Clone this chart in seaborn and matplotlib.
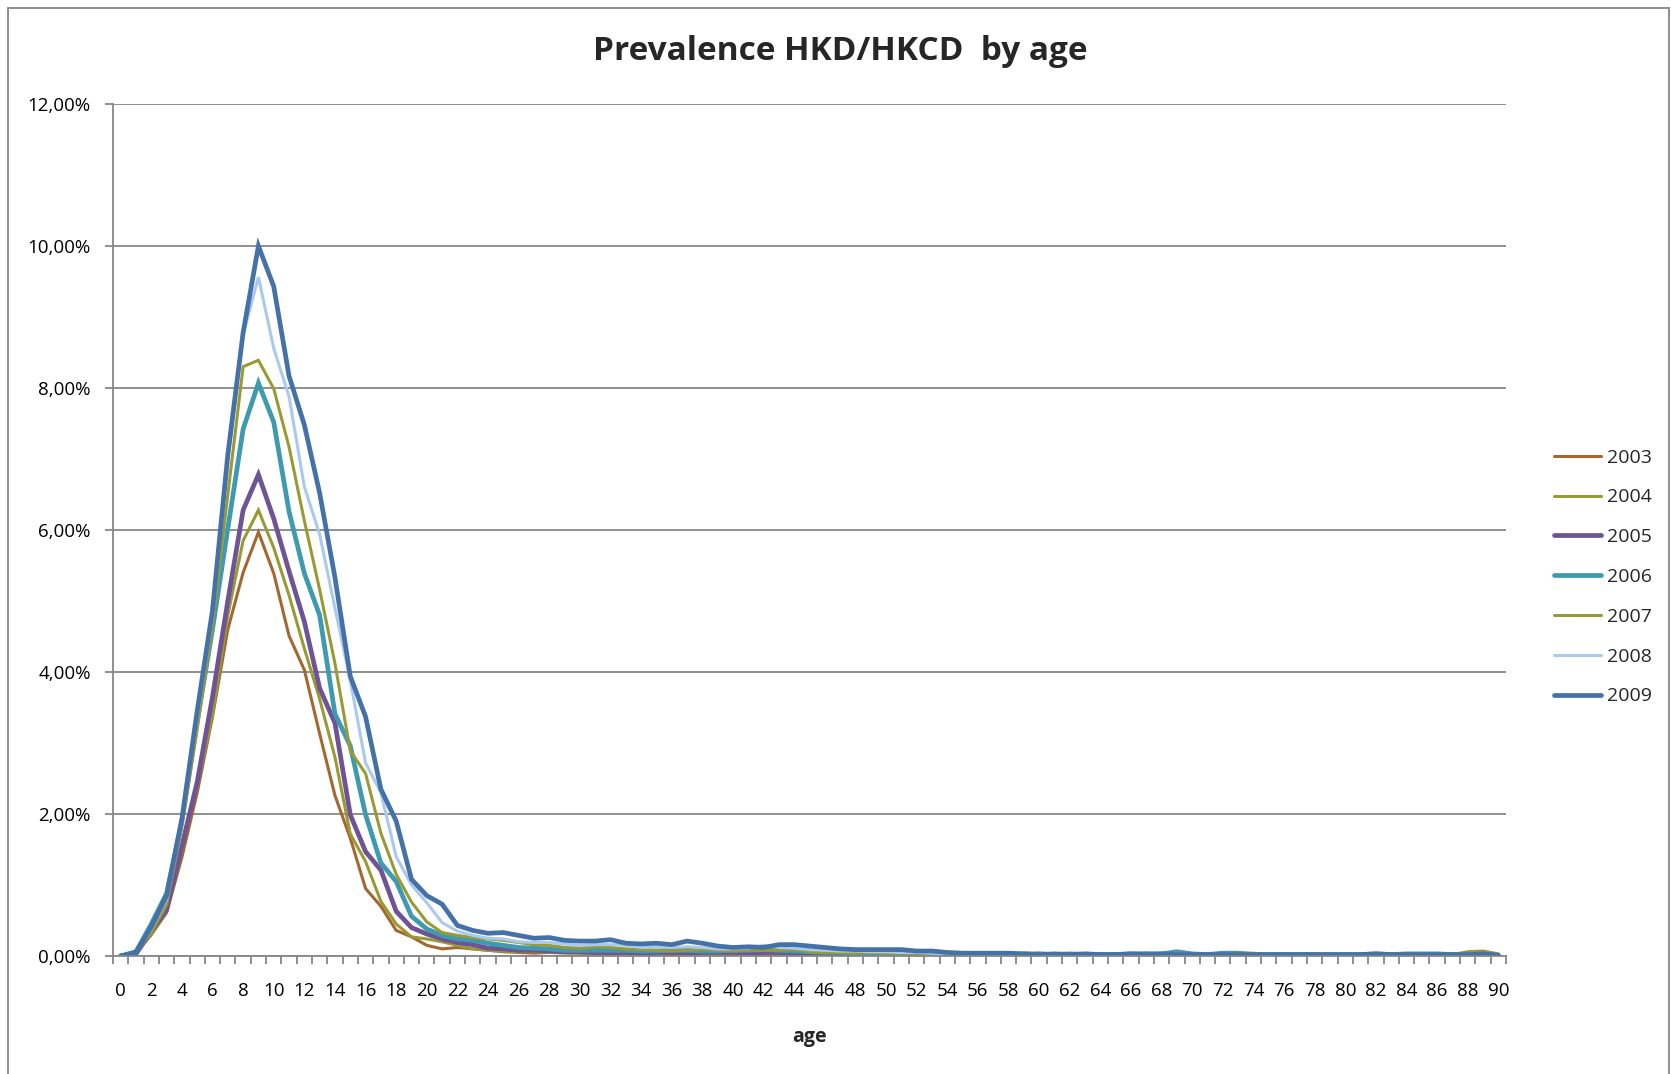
import matplotlib
matplotlib.use("Agg")
import matplotlib.pyplot as plt
import seaborn as sns
import numpy as np
import pandas as pd
from matplotlib.ticker import FuncFormatter, FixedLocator
from matplotlib.patches import Rectangle

# ---------------- data ----------------
ages = list(range(0, 91))
years = ["2003", "2004", "2005", "2006", "2007", "2008", "2009"]

prev_2003 = [0.00, 0.05, 0.30, 0.61, 1.39, 2.30, 3.37, 4.60, 5.40, 5.97,
             5.39, 4.51, 4.03, 3.13, 2.26, 1.66, 0.95, 0.70, 0.36, 0.27,
             0.15, 0.10, 0.12, 0.10, 0.08, 0.06, 0.05, 0.04, 0.05, 0.05,
             0.04, 0.03, 0.03, 0.03, 0.03, 0.03, 0.02, 0.03, 0.02, 0.02,
             0.03, 0.02, 0.02, 0.02, 0.02, 0.02, 0.02, 0.02, 0.01, 0.01,
             0.01, 0.01, 0.01, 0.01, 0.00, 0.01, 0.01, 0.01, 0.01, 0.01,
             0.01, 0.01, 0.01, 0.01, 0.01, 0.01, 0.01, 0.01, 0.01, 0.01,
             0.01, 0.01, 0.01, 0.01, 0.01, 0.01, 0.01, 0.01, 0.01, 0.01,
             0.01, 0.01, 0.01, 0.01, 0.01, 0.01, 0.01, 0.01, 0.01, 0.01, 0.00]
prev_2004 = [0.00, 0.05, 0.30, 0.62, 1.50, 2.40, 3.40, 4.80, 5.85, 6.28,
             5.75, 5.08, 4.33, 3.62, 2.80, 1.72, 1.33, 0.77, 0.45, 0.27,
             0.24, 0.20, 0.15, 0.10, 0.08, 0.07, 0.06, 0.06, 0.05, 0.04,
             0.04, 0.04, 0.05, 0.04, 0.04, 0.03, 0.04, 0.03, 0.03, 0.03,
             0.03, 0.03, 0.03, 0.03, 0.03, 0.03, 0.02, 0.02, 0.02, 0.02,
             0.02, 0.02, 0.02, 0.02, 0.02, 0.01, 0.01, 0.01, 0.02, 0.04,
             0.03, 0.02, 0.01, 0.02, 0.01, 0.01, 0.01, 0.01, 0.01, 0.01,
             0.01, 0.01, 0.01, 0.02, 0.01, 0.01, 0.01, 0.01, 0.01, 0.01,
             0.01, 0.01, 0.01, 0.01, 0.02, 0.02, 0.01, 0.01, 0.01, 0.02, 0.01]
prev_2005 = [0.00, 0.03, 0.35, 0.65, 1.55, 2.45, 3.65, 5.00, 6.28, 6.78,
             6.16, 5.42, 4.71, 3.77, 3.28, 1.99, 1.47, 1.21, 0.63, 0.40,
             0.31, 0.24, 0.19, 0.16, 0.11, 0.10, 0.08, 0.08, 0.07, 0.06,
             0.06, 0.05, 0.05, 0.05, 0.04, 0.05, 0.05, 0.04, 0.05, 0.05,
             0.05, 0.04, 0.05, 0.05, 0.04, 0.04, 0.04, 0.03, 0.03, 0.03,
             0.03, 0.03, 0.02, 0.02, 0.02, 0.02, 0.02, 0.01, 0.02, 0.01,
             0.02, 0.01, 0.02, 0.01, 0.01, 0.02, 0.02, 0.03, 0.02, 0.02,
             0.01, 0.01, 0.02, 0.01, 0.01, 0.01, 0.01, 0.01, 0.01, 0.01,
             0.01, 0.01, 0.01, 0.01, 0.01, 0.01, 0.01, 0.01, 0.01, 0.01, 0.01]
prev_2006 = [0.00, 0.06, 0.45, 0.88, 1.90, 3.30, 4.60, 6.02, 7.42, 8.07,
             7.52, 6.26, 5.39, 4.80, 3.41, 2.96, 1.99, 1.31, 1.05, 0.56,
             0.38, 0.29, 0.24, 0.22, 0.18, 0.15, 0.12, 0.11, 0.10, 0.08,
             0.08, 0.08, 0.08, 0.08, 0.07, 0.07, 0.08, 0.08, 0.07, 0.07,
             0.08, 0.08, 0.09, 0.08, 0.07, 0.06, 0.05, 0.05, 0.04, 0.04,
             0.04, 0.03, 0.03, 0.03, 0.02, 0.02, 0.02, 0.02, 0.02, 0.02,
             0.03, 0.02, 0.03, 0.02, 0.02, 0.02, 0.03, 0.03, 0.03, 0.06,
             0.03, 0.02, 0.04, 0.04, 0.02, 0.02, 0.02, 0.02, 0.02, 0.02,
             0.02, 0.02, 0.03, 0.02, 0.03, 0.03, 0.03, 0.02, 0.02, 0.02, 0.01]
prev_2007 = [0.00, 0.05, 0.33, 0.72, 1.82, 3.20, 4.65, 6.50, 8.30, 8.39,
             7.99, 7.17, 6.13, 5.16, 4.12, 2.89, 2.57, 1.73, 1.15, 0.76,
             0.48, 0.33, 0.29, 0.26, 0.24, 0.22, 0.19, 0.16, 0.15, 0.12,
             0.11, 0.13, 0.12, 0.10, 0.09, 0.08, 0.07, 0.08, 0.09, 0.08,
             0.07, 0.08, 0.08, 0.08, 0.09, 0.06, 0.05, 0.05, 0.04, 0.05,
             0.04, 0.04, 0.03, 0.03, 0.03, 0.02, 0.03, 0.03, 0.03, 0.04,
             0.04, 0.03, 0.02, 0.03, 0.02, 0.02, 0.02, 0.03, 0.02, 0.03,
             0.02, 0.02, 0.03, 0.04, 0.04, 0.02, 0.02, 0.02, 0.03, 0.02,
             0.02, 0.02, 0.02, 0.02, 0.03, 0.03, 0.03, 0.02, 0.06, 0.07, 0.03]
prev_2008 = [0.00, 0.05, 0.38, 0.80, 1.88, 3.38, 4.80, 6.95, 8.75, 9.56,
             8.56, 7.88, 6.61, 5.94, 4.90, 3.88, 2.72, 2.30, 1.40, 1.00,
             0.75, 0.47, 0.35, 0.29, 0.25, 0.24, 0.20, 0.19, 0.19, 0.17,
             0.15, 0.16, 0.16, 0.15, 0.12, 0.13, 0.12, 0.13, 0.12, 0.10,
             0.10, 0.11, 0.15, 0.12, 0.11, 0.09, 0.08, 0.07, 0.07, 0.06,
             0.06, 0.05, 0.05, 0.04, 0.03, 0.03, 0.03, 0.02, 0.03, 0.02,
             0.03, 0.02, 0.02, 0.02, 0.02, 0.02, 0.03, 0.02, 0.02, 0.02,
             0.02, 0.02, 0.02, 0.02, 0.02, 0.01, 0.02, 0.02, 0.02, 0.02,
             0.02, 0.02, 0.02, 0.02, 0.02, 0.02, 0.02, 0.02, 0.02, 0.02, 0.01]
prev_2009 = [0.00, 0.05, 0.41, 0.85, 1.93, 3.45, 4.87, 7.06, 8.78, 10.00,
             9.43, 8.17, 7.48, 6.52, 5.33, 3.94, 3.37, 2.35, 1.90, 1.08,
             0.85, 0.73, 0.43, 0.36, 0.32, 0.33, 0.29, 0.25, 0.26, 0.22,
             0.21, 0.21, 0.23, 0.18, 0.17, 0.18, 0.16, 0.21, 0.18, 0.14,
             0.12, 0.13, 0.12, 0.16, 0.16, 0.14, 0.12, 0.10, 0.09, 0.09,
             0.09, 0.09, 0.07, 0.07, 0.05, 0.04, 0.04, 0.04, 0.04, 0.03,
             0.02, 0.03, 0.02, 0.03, 0.02, 0.02, 0.03, 0.02, 0.03, 0.02,
             0.02, 0.02, 0.02, 0.02, 0.02, 0.02, 0.02, 0.02, 0.02, 0.02,
             0.02, 0.02, 0.03, 0.02, 0.02, 0.02, 0.02, 0.02, 0.02, 0.03, 0.01]

series = [prev_2003, prev_2004, prev_2005, prev_2006, prev_2007, prev_2008, prev_2009]
colors = ["#A3672F", "#9A9A34", "#6E5494", "#3D9AAF", "#9A9A34", "#A9CAEE", "#4472A8"]
widths = [2.2, 2.2, 3.4, 3.4, 2.2, 2.2, 3.4]

x_labels = [str(a) for a in range(0, 91, 2)]

df = pd.DataFrame({
    "age": np.tile(ages, len(years)),
    "year": np.repeat(years, len(ages)),
    "value": np.concatenate(series),
})

# ---------------- figure ----------------
sns.set_theme(style="white")
plt.rcParams["font.family"] = ["Open Sans", "DejaVu Sans"]

W, H = 1671, 1074
fig = plt.figure(figsize=(W / 100, H / 100), dpi=100)
fig.patch.set_facecolor("white")

left, right, bottom, top = 113 / W, 1506 / W, 1 - 956 / H, 1 - 104 / H
ax = fig.add_axes([left, bottom, right - left, top - bottom])

grid_c = "#878787"
for yr, col, lw in zip(years, colors, widths):
    sub = df[df["year"] == yr]
    sns.lineplot(data=sub, x="age", y="value", ax=ax, color=col,
                 linewidth=lw, label=yr, solid_joinstyle="miter")

ax.set_xlim(-0.5, 90.5)
ax.set_ylim(0, 12)

ax.yaxis.set_major_locator(FixedLocator([0, 2, 4, 6, 8, 10, 12]))
ax.yaxis.set_major_formatter(FuncFormatter(lambda v, p: f"{v:.2f}".replace(".", ",") + "%"))
ax.yaxis.grid(True, color=grid_c, linewidth=1.3)
ax.xaxis.grid(False)
ax.set_axisbelow(True)

ax.xaxis.set_major_locator(FixedLocator(np.arange(-0.5, 91, 1)))
ax.xaxis.set_major_formatter(FuncFormatter(lambda v, p: ""))
ax.xaxis.set_minor_locator(FixedLocator(list(range(0, 91, 2))))
ax.set_xticklabels(x_labels, minor=True)

ax.tick_params(axis="x", which="major", direction="out", length=6, width=1.3,
               color=grid_c, bottom=True)
ax.tick_params(axis="x", which="minor", length=0, pad=19, labelsize=13.5,
               labelcolor="black", bottom=True)
ax.tick_params(axis="y", which="major", direction="out", length=6, width=1.3,
               color=grid_c, pad=10, labelsize=13.5, labelcolor="black", left=True)

for s in ["top", "right"]:
    ax.spines[s].set_visible(False)
for s in ["left", "bottom"]:
    ax.spines[s].set_color(grid_c)
    ax.spines[s].set_linewidth(1.3)

ax.set_xlabel("")
ax.set_ylabel("")
handles, labels = ax.get_legend_handles_labels()
ax.get_legend().remove()

fig.text(840 / W, 1 - 51 / H, "Prevalence HKD/HKCD  by age", ha="center", va="center",
         fontsize=24, fontweight="bold")
fig.text(809 / W, 1 - 1037 / H, "age", ha="center", va="center",
         fontsize=14, fontweight="bold")

fig.legend(handles, labels, loc="center left", bbox_to_anchor=(1554 / W, 1 - 577 / H),
           frameon=False, fontsize=14, handlelength=2.4, handletextpad=0.3,
           labelspacing=1.12, borderpad=0, borderaxespad=0)

fig.patches.append(Rectangle((8 / W, -0.1), (1669 - 8) / W, 1.1 - 8 / H,
                             transform=fig.transFigure, fill=False,
                             edgecolor=grid_c, linewidth=1.3))

fig.savefig("out.png", dpi=100, facecolor="white")
